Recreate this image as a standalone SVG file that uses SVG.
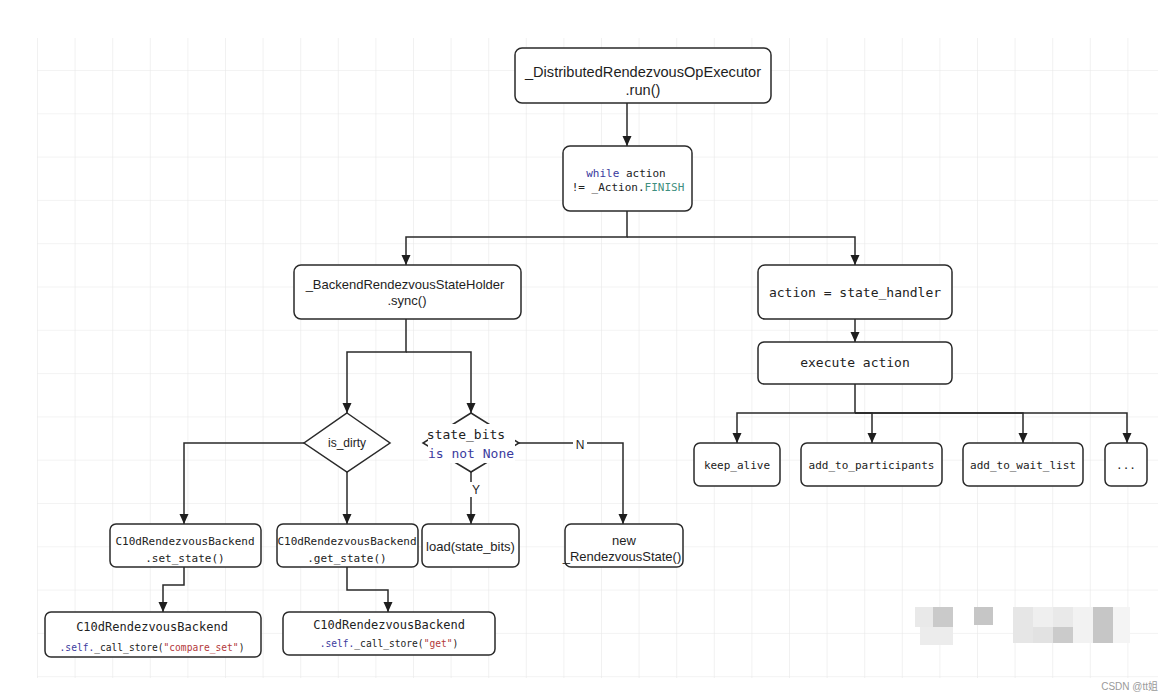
<svg xmlns="http://www.w3.org/2000/svg" width="1176" height="700" viewBox="0 0 1176 700">
<style>
.box{fill:#fff;stroke:#2a2a2a;stroke-width:1.5}
.ln{fill:none;stroke:#2a2a2a;stroke-width:1.5}
.sans{font-family:"Liberation Sans",Arial,sans-serif;fill:#1e1e1e;text-anchor:middle}
.mono{font-family:"DejaVu Sans Mono","Liberation Mono",monospace;fill:#222;text-anchor:middle}
.kw{fill:#3b3b9e}
.cn{fill:#3f8f80}
.str{fill:#b3383a}
</style>
<defs>
<pattern id="grid" patternUnits="userSpaceOnUse" x="37" y="26.7" width="37.6" height="43.3">
<path d="M0,0 V43.3 M0,0 H37.6" fill="none" stroke="#e8e8e8" stroke-width="1.2"/>
</pattern>
<marker id="arr" markerUnits="userSpaceOnUse" markerWidth="10" markerHeight="10" refX="10" refY="4.5" orient="auto">
<path d="M0,0 L10,4.5 L0,9 z" fill="#1e1e1e"/>
</marker>
</defs>
<rect width="1176" height="700" fill="#fff"/>
<rect x="37" y="38" width="1121" height="640" fill="url(#grid)"/>

<g id="connectors">
<path class="ln" d="M627,103 V146" marker-end="url(#arr)"/>
<path class="ln" d="M627,211 V237 H406 V265" marker-end="url(#arr)"/>
<path class="ln" d="M627,237 H855 V265" marker-end="url(#arr)"/>
<path class="ln" d="M855,319 V342" marker-end="url(#arr)"/>
<path class="ln" d="M855,384 V413 H737 V443" marker-end="url(#arr)"/>
<path class="ln" d="M855,413 H872 V443" marker-end="url(#arr)"/>
<path class="ln" d="M855,413 H1023 V443" marker-end="url(#arr)"/>
<path class="ln" d="M855,413 H1127 V443" marker-end="url(#arr)"/>
<path class="ln" d="M406,319 V352 H347 V413" marker-end="url(#arr)"/>
<path class="ln" d="M406,352 H471 V413" marker-end="url(#arr)"/>
<path class="ln" d="M304,443 H184 V524" marker-end="url(#arr)"/>
<path class="ln" d="M347,472 V524" marker-end="url(#arr)"/>
<path class="ln" d="M471,472 V524" marker-end="url(#arr)"/>
<path class="ln" d="M519,443 H623 V524" marker-end="url(#arr)"/>
<path class="ln" d="M184,567 V585 H163 V612" marker-end="url(#arr)"/>
<path class="ln" d="M347,567 V590 H388 V612" marker-end="url(#arr)"/>
<rect x="470" y="482" width="12" height="15" fill="#fff"/>
<text class="sans" x="476" y="494" font-size="12">Y</text>
<rect x="573" y="437" width="14" height="14" fill="#fff"/>
<text class="sans" x="580" y="449" font-size="12">N</text>
</g>

<g id="executor">
<rect class="box" x="515" y="48" width="256" height="55" rx="7"/>
<text class="sans" x="643" y="77" font-size="14.6">_DistributedRendezvousOpExecutor</text>
<text class="sans" x="643" y="95" font-size="14.6">.run()</text>
</g>

<g id="while">
<rect class="box" x="563" y="146" width="129" height="65" rx="7"/>
<text class="mono" x="626" y="177" font-size="11"><tspan class="kw">while</tspan> action</text>
<text class="mono" x="628" y="191" font-size="11">!= _Action.<tspan class="cn">FINISH</tspan></text>
</g>

<g id="sync">
<rect class="box" x="294" y="265" width="227" height="54" rx="7"/>
<text class="sans" x="405" y="289" font-size="13">_BackendRendezvousStateHolder</text>
<text class="sans" x="407" y="305" font-size="13">.sync()</text>
</g>

<g id="handler">
<rect class="box" x="758" y="265" width="194" height="54" rx="7"/>
<text class="mono" x="855" y="297" font-size="13">action = state_handler</text>
</g>

<g id="execute">
<rect class="box" x="758" y="342" width="194" height="42" rx="6"/>
<text class="mono" x="855" y="367" font-size="13">execute action</text>
</g>

<g id="keep_alive">
<rect class="box" x="694" y="443" width="86" height="43" rx="6"/>
<text class="mono" x="737" y="469" font-size="11">keep_alive</text>
</g>
<g id="add_to_participants">
<rect class="box" x="801" y="443" width="141" height="43" rx="6"/>
<text class="mono" x="871.5" y="469" font-size="11">add_to_participants</text>
</g>
<g id="add_to_wait_list">
<rect class="box" x="963" y="443" width="120" height="43" rx="6"/>
<text class="mono" x="1023" y="469" font-size="11">add_to_wait_list</text>
</g>
<g id="more">
<rect class="box" x="1105" y="443" width="42" height="43" rx="6"/>
<text class="mono" x="1126" y="469" font-size="11">...</text>
</g>

<g id="is_dirty">
<polygon class="box" points="347,413 390,443 347,472 304,443"/>
<text class="sans" x="347" y="447" font-size="12">is_dirty</text>
</g>

<g id="state_bits">
<polygon class="box" points="471,413 519,443 471,472 423,443"/>
<rect x="428" y="424" width="87" height="39" fill="#fff"/>
<text class="mono" x="466" y="439" font-size="13">state_bits</text>
<text class="mono kw" x="471" y="458" font-size="13">is not None</text>
</g>

<g id="set_state">
<rect class="box" x="110" y="524" width="151" height="43" rx="6"/>
<text class="mono" x="185" y="545" font-size="11">C10dRendezvousBackend</text>
<text class="mono" x="185" y="562" font-size="11">.set_state()</text>
</g>

<g id="get_state">
<rect class="box" x="277" y="524" width="141" height="43" rx="6"/>
<text class="mono" x="347" y="545" font-size="11">C10dRendezvousBackend</text>
<text class="mono" x="347" y="562" font-size="11">.get_state()</text>
</g>

<g id="load">
<rect class="box" x="422" y="524" width="97" height="43" rx="6"/>
<text class="sans" x="470.5" y="551" font-size="13">load(state_bits)</text>
</g>

<g id="new_state">
<rect class="box" x="565" y="524" width="118" height="43" rx="6"/>
<text class="sans" x="624" y="545" font-size="13">new</text>
<text class="sans" x="622" y="561" font-size="13">_RendezvousState()</text>
</g>

<g id="compare_set">
<rect class="box" x="45" y="612" width="216" height="45" rx="6"/>
<text class="mono" x="152" y="631" font-size="12">C10dRendezvousBackend</text>
<text class="mono" x="152" y="651" font-size="9.6"><tspan class="kw">.self.</tspan>_call_store(<tspan class="str">"compare_set"</tspan>)</text>
</g>

<g id="get_call">
<rect class="box" x="283" y="612" width="212" height="43" rx="6"/>
<text class="mono" x="389" y="629" font-size="12">C10dRendezvousBackend</text>
<text class="mono" x="389" y="647" font-size="9.6"><tspan class="kw">.self.</tspan>_call_store(<tspan class="str">"get"</tspan>)</text>
</g>

<g id="mosaic">
<rect x="915" y="607" width="18" height="20" fill="#e9e9e9"/>
<rect x="933" y="607" width="20" height="20" fill="#cacaca"/>
<rect x="920" y="627" width="33" height="18" fill="#ececec"/>
<rect x="974" y="607" width="19" height="18" fill="#c6c6c6"/>
<rect x="1013" y="607" width="20" height="36" fill="#e6e6e6"/>
<rect x="1033" y="607" width="20" height="20" fill="#efefef"/>
<rect x="1033" y="627" width="20" height="16" fill="#e2e2e2"/>
<rect x="1053" y="607" width="20" height="20" fill="#e9e9e9"/>
<rect x="1053" y="627" width="20" height="16" fill="#cbcbcb"/>
<rect x="1073" y="607" width="20" height="36" fill="#f2f2f2"/>
<rect x="1093" y="607" width="20" height="36" fill="#c6c6c6"/>
<rect x="1113" y="607" width="17" height="36" fill="#f4f4f4"/>
</g>

<text x="1158" y="690" font-family="'Liberation Sans','Noto Sans CJK SC',sans-serif" font-size="10" fill="#9a9a9a" text-anchor="end">CSDN @tt姐</text>
</svg>
